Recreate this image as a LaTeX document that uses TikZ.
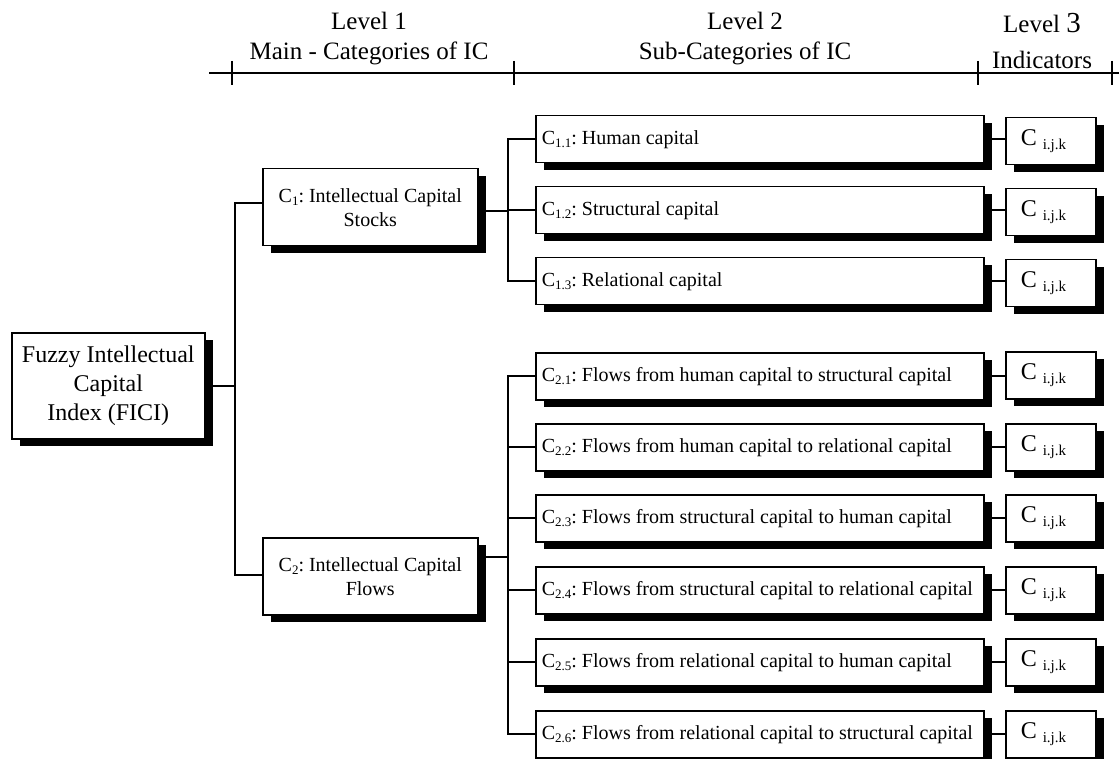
\documentclass[tikz,border=0pt]{standalone}
\usepackage{fontspec}
\setmainfont{Liberation Serif}
\usetikzlibrary{shadows}
\newcommand{\sbs}[1]{\raisebox{-3pt}{\fontsize{13}{13}\selectfont #1}}
\newcommand{\ijk}{\raisebox{-4pt}{\fontsize{15}{15}\selectfont i.j.k}}
\newcommand{\lline}[1]{\makebox[436pt][l]{#1}}
\frenchspacing
\begin{document}
\begin{tikzpicture}[x=1pt,y=-1pt,
  box/.style={draw, line width=1.5pt, fill=white, inner sep=0pt, anchor=north west,
    drop shadow={shadow xshift=8pt, shadow yshift=-7pt, fill=black, opacity=1}},
  mainbox/.style={box, minimum width=193pt, minimum height=106pt, align=center, font=\fontsize{24}{29}\selectfont},
  catbox/.style={box, minimum width=215pt, minimum height=77pt, align=center, font=\fontsize{20}{24}\selectfont},
  subbox/.style={box, minimum width=448pt, minimum height=47pt, font=\fontsize{20}{24}\selectfont},
  indbox/.style={box, minimum width=90pt, minimum height=47pt, font=\fontsize{24}{24}\selectfont},
  conn/.style={line width=1.6pt},
  hdr/.style={font=\fontsize{25}{30}\selectfont, anchor=base}
]
\useasboundingbox (0,0) rectangle (1119,759);

% header
\draw[conn] (209,73) -- (1119,73);
\foreach \x in {232,514,978,1112} \draw[conn] (\x,61) -- (\x,85);
\node[hdr] (h1a) at (369,30) {Level 1};
\node[hdr] (h1b) at (369,60) {Main - Categories of IC};
\node[hdr] (h2a) at (745,30) {Level 2};
\node[hdr] (h2b) at (745,60) {Sub-Categories of IC};
\node[hdr] (h3a) at (1042,33) {Level {\fontsize{29}{30}\selectfont 3}};
\node[hdr] (h3b) at (1042,69) {Indicators};

% main nodes
\node[mainbox] (fici) at (11,332) {Fuzzy Intellectual\\Capital\\Index (FICI)};
\node[catbox] (c1) at (262,168) {C\sbs{1}: Intellectual Capital\\Stocks};
\node[catbox] (c2) at (262,537) {C\sbs{2}: Intellectual Capital\\Flows};

% level 2
\node[subbox] (s11) at (535,115) {\lline{C\sbs{1.1}: Human capital}};
\node[subbox] (s12) at (535,186) {\lline{C\sbs{1.2}: Structural capital}};
\node[subbox] (s13) at (535,257) {\lline{C\sbs{1.3}: Relational capital}};
\node[subbox] (s21) at (535,352) {\lline{C\sbs{2.1}: Flows from human capital to structural capital}};
\node[subbox] (s22) at (535,423) {\lline{C\sbs{2.2}: Flows from human capital to relational capital}};
\node[subbox] (s23) at (535,494) {\lline{C\sbs{2.3}: Flows from structural capital to human capital}};
\node[subbox] (s24) at (535,566) {\lline{C\sbs{2.4}: Flows from structural capital to relational capital}};
\node[subbox] (s25) at (535,638) {\lline{C\sbs{2.5}: Flows from relational capital to human capital}};
\node[subbox] (s26) at (535,710) {\lline{C\sbs{2.6}: Flows from relational capital to structural capital}};

% level 3
\foreach \n/\y in {i11/117,i12/188,i13/259,i21/351,i22/423,i23/494,i24/566,i25/638,i26/710}
  \node[indbox] (\n) at (1005,\y) {\makebox[60pt][l]{C \ijk}};

% connectors
\coordinate (m1) at (235,203);
\coordinate (m2) at (235,575);
\draw[conn] (fici.east) -- (fici.east -| m1);
\draw[conn] (c1.west |- m1) -- (m1) -- (m2) -- (c2.west |- m2);

\coordinate (b1) at (508,211);
\draw[conn] (c1.east |- b1) -- (b1);
\draw[conn] (s11.west) -- (s11.west -| b1) -- (s13.west -| b1) -- (s13.west);
\draw[conn] (s12.west -| b1) -- (s12.west);

\coordinate (b2) at (508,557);
\draw[conn] (c2.east |- b2) -- (b2);
\draw[conn] (s21.west) -- (s21.west -| b2) -- (s26.west -| b2) -- (s26.west);
\foreach \s in {s22,s23,s24,s25}
  \draw[conn] (\s.west -| b2) -- (\s.west);

\foreach \s/\i in {s11/i11,s12/i12,s13/i13,s21/i21,s22/i22,s23/i23,s24/i24,s25/i25,s26/i26}
  \draw[conn] (\s.east) -- (\s.east -| \i.west);
\end{tikzpicture}
\end{document}
